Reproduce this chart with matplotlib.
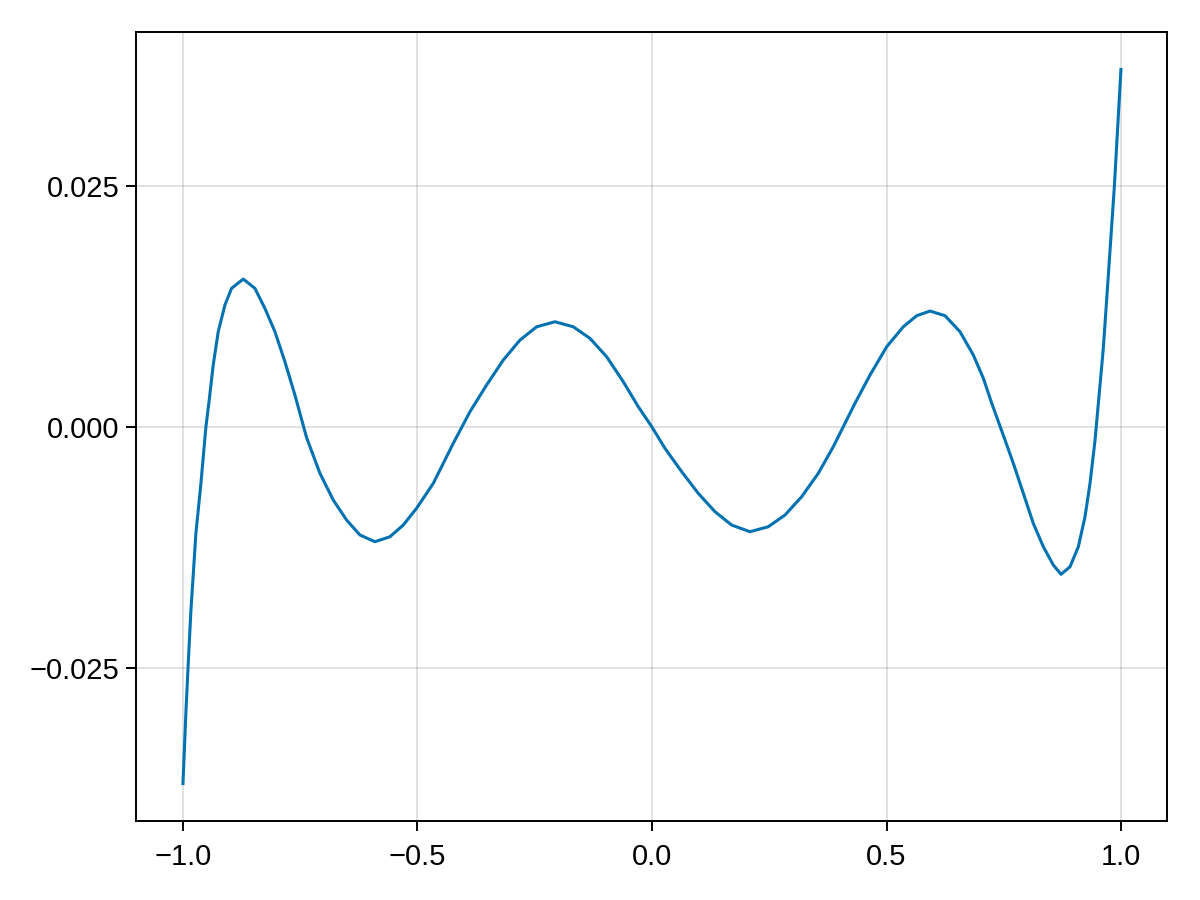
import matplotlib
matplotlib.use("Agg")
import matplotlib.pyplot as plt

# Points
x_vals = [-1.0, -0.9936, -0.9883, -0.983, -0.9723, -0.9616, -0.951, -0.9439, -0.9354,
          -0.9247, -0.9104, -0.8962, -0.8714, -0.8465, -0.8252, -0.8038, -0.7825,
          -0.7612, -0.7363, -0.7079, -0.6795, -0.651, -0.6226, -0.5906, -0.5586,
          -0.5303, -0.5018, -0.4662, -0.4236, -0.388, -0.3525, -0.317, -0.2814,
          -0.2458, -0.2068, -0.1678, -0.1322, -0.0966, -0.0612, -0.0292, 0.0,
          0.0277, 0.0633, 0.0987, 0.1343, 0.1699, 0.209, 0.248, 0.2836, 0.3191,
          0.3546, 0.3866, 0.4328, 0.4648, 0.5004, 0.5358, 0.5644, 0.5928, 0.6247,
          0.6567, 0.6851, 0.7065, 0.7244, 0.7527, 0.7704, 0.7917, 0.813, 0.8344,
          0.8557, 0.8721, 0.8913, 0.909, 0.9232, 0.9339, 0.9446, 0.9623, 0.973,
          0.9857, 1.0]
y_vals = [-0.03714, -0.0296, -0.0242, -0.0191, -0.01103, -0.00584, 0.0, 0.0028, 0.00643,
          0.00989, 0.01266, 0.01439, 0.01535, 0.01439, 0.01231, 0.00989, 0.00677,
          0.00332, -0.0011, -0.0048, -0.00757, -0.00965, -0.0112, -0.0119, -0.01138,
          -0.01017, -0.00843, -0.00584, -0.00169, 0.00159, 0.00436, 0.00695, 0.00902,
          0.0104, 0.01092, 0.0104, 0.0092, 0.00729, 0.0047, 0.00211, 0.0,
          -0.00221, -0.00463, -0.00688, -0.00878, -0.01017, -0.01086, -0.01034, -0.00913, -0.00723,
          -0.0048, -0.00204, 0.00246, 0.00539, 0.00833, 0.0104, 0.01155, 0.01203, 0.01155,
          0.00989, 0.00747, 0.00505, 0.00246, -0.00135, -0.00377, -0.00688, -0.01, -0.01242,
          -0.01432, -0.01528, -0.01449, -0.01242, -0.00931, -0.00584, -0.00135, 0.0082, 0.0158,
          0.0249, 0.03725]

x_ticks = [-1.0, -0.5, 0.0, 0.5, 1.0]
x_tick_labels = ["−1.0", "−0.5", "0.0", "0.5", "1.0"]
y_ticks = [-0.025, 0.0, 0.025]
y_tick_labels = ["−0.025", "0.000", "0.025"]

plt.rcParams['font.family'] = ['Liberation Sans', 'DejaVu Sans']

fig = plt.figure(figsize=(12, 9), dpi=100)
ax = fig.add_axes([136/1200, 1 - 821/900, (1167-136)/1200, (821-32)/900])

ax.plot(x_vals, y_vals, color="#0072B2", linewidth=2.2,
        solid_joinstyle="round", solid_capstyle="butt")

ax.set_xlim(-1.1, 1.098)
ax.set_ylim(-0.04087, 0.04098)
ax.set_xticks(x_ticks)
ax.set_xticklabels(x_tick_labels)
ax.set_yticks(y_ticks)
ax.set_yticklabels(y_tick_labels)

ax.grid(True, color="black", alpha=0.12, linewidth=1.4)
ax.set_axisbelow(True)
for s in ax.spines.values():
    s.set_linewidth(1.4)
    s.set_color("black")
ax.tick_params(axis="both", direction="out", length=7, width=1.4,
               labelsize=21, colors="black")
ax.tick_params(axis="x", pad=9)
ax.tick_params(axis="y", pad=5)

fig.savefig("out.png", dpi=100)
